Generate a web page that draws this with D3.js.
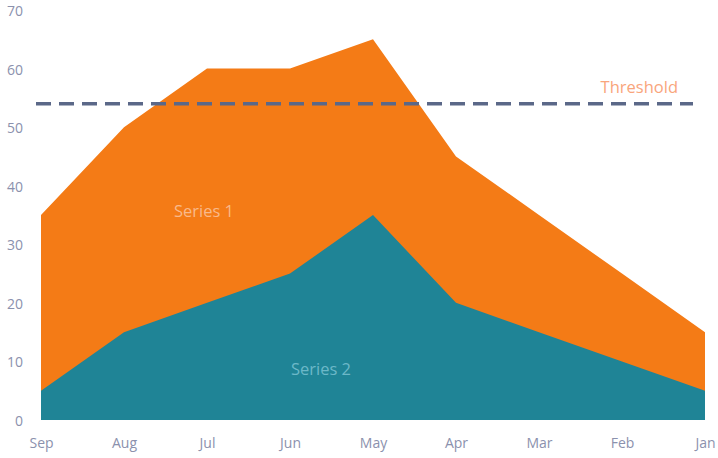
<!DOCTYPE html>
<html><head><meta charset="utf-8">
<script src="https://cdn.jsdelivr.net/npm/d3@7/dist/d3.min.js"></script>
<style>body{margin:0;background:#fff}svg{display:block}</style>
</head><body>
<svg id="c" width="718" height="458"></svg>
<script>
const categories = ["Sep","Aug","Jul","Jun","May","Apr","Mar","Feb","Jan"];
const series1 = [35,50,60,60,65,45,35,25,15];
const series2 = [5,15,20,25,35,20,15,10,5];
const yTicks = [0,10,20,30,40,50,60,70];
const threshold = 54;
const seriesNames = ["Series 1","Series 2"];

const svg = d3.select("#c");
const x = d3.scalePoint().domain(categories).range([41,705]);
const y = d3.scaleLinear().domain([0,70]).range([420,10]);
const font = "'Open Sans', sans-serif";

const area = vals => d3.area().x((d,i)=>x(categories[i])).y0(y(0)).y1(d=>y(d))(vals);
svg.append("path").attr("d", area(series1)).attr("fill","#f47b16");
svg.append("path").attr("d", area(series2)).attr("fill","#1f8496");

// axes
const yAxis = svg.append("g").attr("transform","translate(23,1)")
  .call(d3.axisLeft(y).tickValues(yTicks).tickSize(0).tickPadding(0));
yAxis.select(".domain").remove();
yAxis.selectAll("text").attr("fill","#8b91ad").attr("font-size",14).attr("font-family",font);

const xAxis = svg.append("g").attr("transform","translate(0,438)")
  .call(d3.axisBottom(x).tickSize(0).tickPadding(0));
xAxis.select(".domain").remove();
xAxis.selectAll("text").attr("fill","#8b91ad").attr("font-size",14).attr("font-family",font).attr("dy","0.71em");

// threshold
svg.append("line").attr("x1",36).attr("x2",693).attr("y1",y(threshold)).attr("y2",y(threshold))
  .attr("stroke","#5b6888").attr("stroke-width",3.5).attr("stroke-dasharray","15,8");
svg.append("text").attr("x",678).attr("y",93).attr("text-anchor","end")
  .attr("font-family",font).attr("font-size",16.5).attr("fill","#f9a57c").text("Threshold");

// series labels
svg.append("text").attr("x",204).attr("y",217).attr("text-anchor","middle")
  .attr("font-family",font).attr("font-size",16.5).attr("fill","#f9b98a").text(seriesNames[0]);
svg.append("text").attr("x",321).attr("y",375).attr("text-anchor","middle")
  .attr("font-family",font).attr("font-size",16.5).attr("fill","#6cb8c8").text(seriesNames[1]);
</script>
</body></html>
